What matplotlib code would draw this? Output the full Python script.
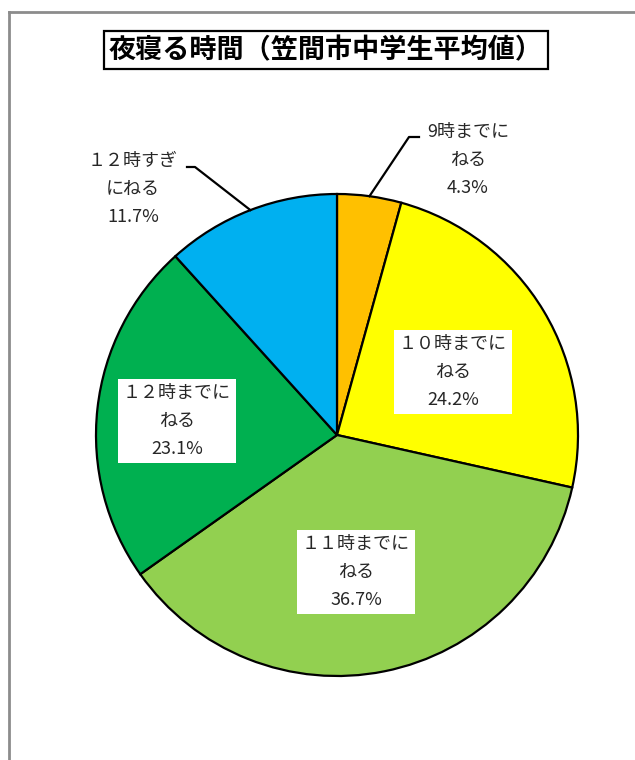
import numpy as np
import matplotlib
matplotlib.use("Agg")
import matplotlib.pyplot as plt
from matplotlib.lines import Line2D

plt.rcParams['font.family'] = ['Noto Sans CJK JP', 'DejaVu Sans']

title = "夜寝る時間（笠間市中学生平均値）"
categories = ["9時までに\nねる", "１０時までに\nねる", "１１時までに\nねる",
              "１２時までに\nねる", "１２時すぎ\nにねる"]
values = [4.3, 24.2, 36.7, 23.1, 11.7]
colors = ["#FFC000", "#FFFF00", "#92D050", "#00B050", "#00B0F0"]

W, H = 635, 760
fig = plt.figure(figsize=(W / 100, H / 100), dpi=100)

# outer frame (gray)
fig.add_artist(Line2D([8.5 / W, 8.5 / W], [0, 1 - 12 / H], transform=fig.transFigure,
                      color="#8c8c8c", lw=2))
fig.add_artist(Line2D([8.5 / W, 634 / W], [1 - 12 / H, 1 - 12 / H], transform=fig.transFigure,
                      color="#8c8c8c", lw=2))

cx, cy, r = 337, 435, 241
ax = fig.add_axes([(cx - r) / W, (H - cy - r) / H, 2 * r / W, 2 * r / H])

wedges, _ = ax.pie(values, colors=colors, startangle=90, counterclock=False, radius=1,
                   wedgeprops=dict(edgecolor='black', linewidth=1.6))
ax.set_xlim(-1, 1)
ax.set_ylim(-1, 1)
ax.set_aspect('equal')
ax.axis('off')

def px(x, y):
    return ((x - cx) / r, (cy - y) / r)

txtcol = "#262626"
fs = 13
labels = [f"{c}\n{v:.1f}%" for c, v in zip(categories, values)]

# positions of label centres (pixels)
label_pos = [(468, 160), (453, 372), (356, 572), (177, 421), (133, 189)]
boxed = [False, True, True, True, False]

for lab, (lx, ly), b in zip(labels, label_pos, boxed):
    x, y = px(lx, ly)
    kw = {}
    if b:
        kw['bbox'] = dict(boxstyle='square,pad=0.3', fc='white', ec='none')
    ax.text(x, y, lab, ha='center', va='center', fontsize=fs, color=txtcol,
            linespacing=1.68, clip_on=False, **kw)

# leader lines from wedge mid-angle on edge
def edge_point(w):
    th = np.deg2rad((w.theta1 + w.theta2) / 2)
    return np.cos(th), np.sin(th)

e0 = edge_point(wedges[0])
p1 = px(409, 137); p2 = px(419, 137)
ax.plot([e0[0], p1[0], p2[0]], [e0[1], p1[1], p2[1]], color='black', lw=1.6, clip_on=False)
e4 = edge_point(wedges[4])
q1 = px(195, 167); q2 = px(187, 167)
ax.plot([e4[0], q1[0], q2[0]], [e4[1], q1[1], q2[1]], color='black', lw=1.6, clip_on=False)

# title with box
fig.text(326 / W, 1 - 50 / H, title, ha='center', va='center', fontsize=19.5,
         color='black', fontweight='bold',
         bbox=dict(boxstyle='square,pad=0.2', fc='white', ec='black', lw=1.6))

fig.savefig("out.png", dpi=100, facecolor='white')
